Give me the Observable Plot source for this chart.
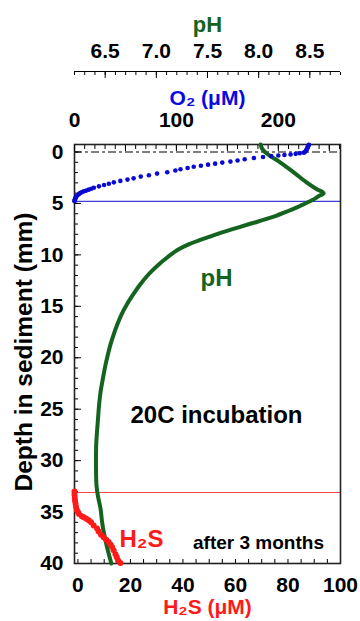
<!DOCTYPE html>
<html><head><meta charset="utf-8">
<script src="https://cdn.jsdelivr.net/npm/d3@7"></script>
<script src="https://cdn.jsdelivr.net/npm/@observablehq/plot@0.6"></script>
<style>
body{margin:0;background:#fff}
#wrap{position:relative;width:360px;height:621px;overflow:hidden}
#wrap svg{position:absolute;left:0;top:0}
</style></head><body><div id="wrap"></div>
<script>
// O2 profile (depth mm, O2 µM)
const o2Depth = [-0.7,-0.6,-0.5,-0.4,-0.3,-0.2,-0.1,0,0.06,0.12,0.18,0.24,0.29,0.34,0.4,0.48,0.58,0.7,0.82,0.93,1.03,1.13,1.23,1.33,1.44,1.55,1.67,1.8,1.97,2.1,2.26,2.39,2.56,2.68,2.81,2.95,3.08,3.2,3.34,3.47,3.57,3.66,3.75,3.83,3.92,4.0,4.08,4.2,4.3,4.41,4.5,4.6,4.7,4.78];
const o2Value = [230,229.5,229,228.5,228,227.5,227,226,225,221,217,212,206,200,193,185,176,167,160,153,145,138,131,124,117,111,104,99,91,81,73,65,58,52,45,38.6,33.7,29,24,19,16.5,14,11.5,9,7,5.5,4.3,3,2,1.2,0.8,0.4,0.1,0];
// pH profile
const phDepth = [-0.73,-0.3,0.2,1.0,2.0,3.0,3.6,4.0,4.3,4.67,5.22,5.5,5.8,6.2,6.5,6.8,7.0,7.5,8.0,8.5,9.0,9.5,10.0,10.5,11.0,11.5,12.0,12.9,13.8,14.8,15.8,16.8,17.8,18.7,19.7,20.7,22.0,23.3,24.6,25.9,27.2,28.5,30.5,32.4,33.5,34.7,36.0,37.0,38.5,40.0];
const phValue = [8.02,8.035,8.085,8.21,8.345,8.475,8.565,8.635,8.585,8.525,8.41,8.346,8.272,8.17,8.077,7.98,7.91,7.745,7.585,7.445,7.31,7.21,7.138,7.075,7.016,6.962,6.914,6.84,6.777,6.713,6.659,6.617,6.581,6.552,6.526,6.503,6.478,6.455,6.44,6.43,6.42,6.412,6.41,6.415,6.43,6.455,6.47,6.487,6.52,6.56];
// H2S profile
const h2sDepth = [33.0,33.3,33.6,33.9,34.2,34.5,34.8,35.0,35.2,35.4,35.5,35.65,35.8,36.0,36.3,36.6,36.9,37.2,37.45,37.7,37.9,38.15,38.4,38.7,39.1,39.4,39.7,39.96];
const h2sValue = [-1.3,-1.3,-1.2,-1.1,-0.9,-0.7,-0.4,0,0.4,1.5,2.2,3.2,4.1,5.0,6.0,7.3,7.9,8.8,9.8,10.8,11.7,12.4,13.0,13.6,14.3,14.8,15.3,16.2];
// reference lines (depth mm)
const surfaceDepth = [0];
const oxicLimit = [4.8];
const sulfideOnset = [33.1];
// tick labels
const depthTicks = [0,5,10,15,20,25,30,35,40];
const o2Ticks = [0,100,200];
const phTicks = [6.5,7.0,7.5,8.0,8.5];
const h2sTicks = [0,20,40,60,80,100];

const o2Rows = o2Depth.map((d,i)=>({depth:d, o2:o2Value[i]}));
const phRows = phDepth.map((d,i)=>({depth:d, ph:phValue[i]}));
const h2sRows = h2sDepth.map((d,i)=>({depth:d, h2s:h2sValue[i]}));

const FONT = "'Liberation Sans', Arial, sans-serif";
const yDomain = [-0.73, 40];
const common = {
  width:360, height:621, marginLeft:74, marginRight:20, marginTop:144, marginBottom:58,
  style:{background:"transparent", fontFamily:FONT, fontSize:"21px", fontWeight:"bold", color:"#000"}
};
const yOpts = {domain:yDomain, reverse:true, axis:null};
const blank = () => "";
const GREEN = "#14631f", BLUE = "#0a0ad2", RED = "#ff1a1a";

const base = Plot.plot({
  ...common,
  x:{domain:[-1.3,100], axis:null},
  y:yOpts,
  marks:[
    Plot.ruleY(surfaceDepth, {stroke:"#000", strokeWidth:1, strokeDasharray:"8,3,3,3"}),
    Plot.ruleY(oxicLimit, {stroke:"#3b3bd6", strokeWidth:1.2}),
    Plot.ruleY(sulfideOnset, {stroke:"#f04848", strokeWidth:1.2}),
    Plot.axisY(d3.range(0,41,1), {anchor:"left", tickSize:-4, tickFormat:blank, label:null}),
    Plot.axisY(depthTicks, {anchor:"left", tickSize:-7, tickFormat:blank, label:null}),
    Plot.axisY(depthTicks, {anchor:"left", tickSize:0, tickPadding:11, fontSize:21, fontWeight:"bold", label:null}),
    Plot.axisX(d3.range(0,101,5), {anchor:"bottom", tickSize:-4, tickFormat:blank, label:null}),
    Plot.axisX(h2sTicks, {anchor:"bottom", tickSize:0, tickPadding:14, fontSize:21, fontWeight:"bold", label:null}),
    Plot.text(["Depth in sediment (mm)"], {text:d=>d, frameAnchor:"left", textAnchor:"middle", rotate:-90, dx:-50, dy:-2, fontSize:24.5, fontWeight:"bold", fill:"#000"}),
    Plot.text(["H₂S (μM)"], {text:d=>d, frameAnchor:"bottom", textAnchor:"middle", dy:50, fontSize:21, fontWeight:"bold", fill:RED}),
    Plot.text(["20C incubation"], {text:d=>d, frameAnchor:"top-left", textAnchor:"middle", dx:142, dy:261, fontSize:24, fontWeight:"bold", fill:"#000"}),
    Plot.text(["after 3 months"], {text:d=>d, frameAnchor:"top-left", textAnchor:"middle", dx:184, dy:391, fontSize:19, fontWeight:"bold", fill:"#000"}),
    Plot.text(["H₂S"], {text:d=>d, frameAnchor:"top-left", textAnchor:"middle", dx:67, dy:385, fontSize:24, fontWeight:"bold", fill:RED}),
    Plot.frame({stroke:"#222", strokeWidth:1.6})
  ]
});

const phPlot = Plot.plot({
  ...common,
  x:{domain:[6.2,8.8], axis:null},
  y:yOpts,
  marks:[
    Plot.ruleY([yDomain[0]], {dy:-73, stroke:"#000", strokeWidth:1.2}),
    Plot.axisX(d3.range(62,89,1).map(v=>v/10), {anchor:"top", dy:-73, tickSize:-3, tickFormat:blank, label:null}),
    Plot.axisX(phTicks, {anchor:"top", dy:-73, tickSize:-6, tickFormat:blank, label:null}),
    Plot.axisX(phTicks, {anchor:"top", dy:-73, tickSize:0, tickPadding:14, tickFormat:d3.format(".1f"), fontSize:21, fontWeight:"bold", label:null}),
    Plot.text(["pH"], {text:d=>d, frameAnchor:"top", textAnchor:"middle", dy:-128, fontSize:22, fontWeight:"bold", fill:GREEN}),
    Plot.text(["pH"], {text:d=>d, frameAnchor:"top-left", textAnchor:"middle", dx:142, dy:124, fontSize:24, fontWeight:"bold", fill:GREEN}),
    Plot.line(phRows, {x:"ph", y:"depth", stroke:GREEN, strokeWidth:4, curve:"catmull-rom"})
  ]
});

const o2Plot = Plot.plot({
  ...common,
  x:{domain:[0,261], axis:null},
  y:yOpts,
  marks:[
    Plot.axisX(d3.range(0,261,10), {anchor:"top", tickSize:-4, tickFormat:blank, label:null}),
    Plot.axisX(d3.range(0,261,50), {anchor:"top", tickSize:-6, tickFormat:blank, label:null}),
    Plot.axisX(o2Ticks, {anchor:"top", tickSize:0, tickPadding:18, fontSize:21, fontWeight:"bold", label:null}),
    Plot.text(["O₂ (μM)"], {text:d=>d, frameAnchor:"top", textAnchor:"middle", dy:-54, fontSize:21, fontWeight:"bold", fill:"#0a0ae0"}),
    Plot.dot(o2Rows, {x:"o2", y:"depth", r:2.3, fill:BLUE, stroke:"none"})
  ]
});

const h2sPlot = Plot.plot({
  ...common,
  x:{domain:[-1.3,100], axis:null},
  y:yOpts,
  marks:[
    Plot.dot(h2sRows, {x:"h2s", y:"depth", r:3, fill:RED, stroke:"none"})
  ]
});

const wrap = document.getElementById("wrap");
wrap.append(base, phPlot, o2Plot, h2sPlot);
</script></body></html>
